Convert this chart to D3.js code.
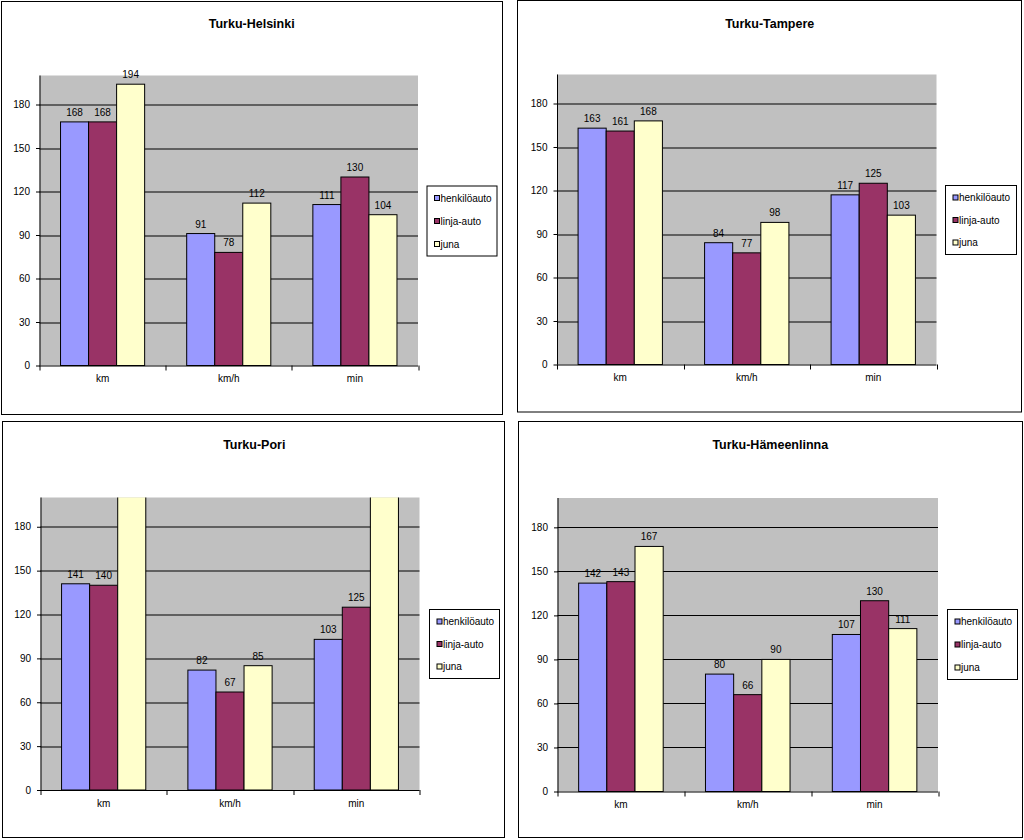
<!DOCTYPE html>
<html><head><meta charset="utf-8">
<script src="https://cdn.jsdelivr.net/npm/d3@7"></script>
<style>
html,body{margin:0;padding:0;background:#fff;}
svg{display:block;font-family:"Liberation Sans",Arial,sans-serif;}
</style></head>
<body>
<svg id="c" width="1024" height="840"></svg>
<script>
// ---- data ----
const categories = ["km", "km/h", "min"];
const seriesNames = ["henkilöauto", "linja-auto", "juna"];
const seriesColors = ["#9999FF", "#993366", "#FFFFCC"];
const yTicks = [0, 30, 60, 90, 120, 150, 180];
const yMax = 200;
const routeTitles = ["Turku-Helsinki", "Turku-Tampere", "Turku-Pori", "Turku-Hämeenlinna"];
// values per series: [km, km/h, min]
const helsinkiHenkiloauto = [168, 91, 111];
const helsinkiLinjaauto   = [168, 78, 130];
const helsinkiJuna        = [194, 112, 104];
const tampereHenkiloauto  = [163, 84, 117];
const tampereLinjaauto    = [161, 77, 125];
const tampereJuna         = [168, 98, 103];
const poriHenkiloauto     = [141, 82, 103];
const poriLinjaauto       = [140, 67, 125];
const poriJuna            = [290, 85, 220]; // km and min exceed the axis and are cut off
const hameenlinnaHenkiloauto = [142, 80, 107];
const hameenlinnaLinjaauto   = [143, 66, 130];
const hameenlinnaJuna        = [167, 90, 111];

const routeValues = [
  [helsinkiHenkiloauto, helsinkiLinjaauto, helsinkiJuna],
  [tampereHenkiloauto, tampereLinjaauto, tampereJuna],
  [poriHenkiloauto, poriLinjaauto, poriJuna],
  [hameenlinnaHenkiloauto, hameenlinnaLinjaauto, hameenlinnaJuna]
];

// ---- layout (positions only) ----
const layouts = [
  {frame:[1.5,1.5,501,413], plot:[39.5,75.5,418,365.5], title:[251.7,23.5], legend:[427,186,70,70]},
  {frame:[517.5,0.5,504,411.5], plot:[557,74.5,936.5,364.5], title:[769.7,23.5], legend:[945.5,185.5,71,69]},
  {frame:[2.5,421.5,502,416], plot:[40.5,497.5,419.5,790], title:[254.3,444.5], legend:[429.5,609.5,70,69]},
  {frame:[518.5,421.5,504,416], plot:[557.5,498,938,791.5], title:[770.3,444.7], legend:[947.5,609.5,70,70]}
];

const svg = d3.select("#c");

routeTitles.forEach((title, pi) => {
  const L = layouts[pi];
  const vals = routeValues[pi];
  const g = svg.append("g");

  // panel frame
  g.append("rect").attr("x", L.frame[0]).attr("y", L.frame[1])
    .attr("width", L.frame[2]).attr("height", L.frame[3])
    .attr("fill", "#fff").attr("stroke", "#000").attr("stroke-width", 1);

  // title
  g.append("text").attr("x", L.title[0]).attr("y", L.title[1])
    .attr("text-anchor", "middle").attr("dominant-baseline", "central")
    .attr("font-size", "12.5px").attr("font-weight", "bold").attr("fill", "#000")
    .text(title);

  const [x0, y0, x1, y1] = L.plot;
  const w = x1 - x0, h = y1 - y0;
  const pg = g.append("g").attr("transform", `translate(${x0},${y0})`);

  const y = d3.scaleLinear().domain([0, yMax]).range([h, 0]);
  const xCat = d3.scaleBand().domain(categories).range([0, w]).padding(0);
  const bw = xCat.bandwidth();
  const xSer = d3.scaleBand().domain(seriesNames).range([bw / 6, bw * 5 / 6]).padding(0);

  // plot background
  pg.append("rect").attr("width", w).attr("height", h).attr("fill", "#C0C0C0");

  // gridlines
  pg.append("g").selectAll("line").data(yTicks.filter(t => t > 0)).join("line")
    .attr("x1", 0).attr("x2", w)
    .attr("y1", d => Math.round(y(d)) + 0.5).attr("y2", d => Math.round(y(d)) + 0.5)
    .attr("stroke", "#000").attr("stroke-width", 1);

  // clip
  const clipId = "clip" + pi;
  pg.append("clipPath").attr("id", clipId).append("rect")
    .attr("x", -1).attr("y", 0).attr("width", w + 2).attr("height", h + 1);

  // bars
  const bars = [];
  seriesNames.forEach((s, si) => {
    categories.forEach((c, ci) => {
      bars.push({s, si, c, v: vals[si][ci]});
    });
  });
  pg.append("g").attr("clip-path", `url(#${clipId})`)
    .selectAll("rect").data(bars).join("rect")
    .attr("x", d => xCat(d.c) + xSer(d.s))
    .attr("y", d => y(d.v))
    .attr("width", xSer.bandwidth())
    .attr("height", d => h - y(d.v))
    .attr("fill", d => seriesColors[d.si])
    .attr("stroke", "#000").attr("stroke-width", 1);

  // data labels (hidden when out of range)
  pg.append("g").selectAll("text").data(bars.filter(d => d.v <= yMax)).join("text")
    .attr("x", d => xCat(d.c) + xSer(d.s) + xSer.bandwidth() / 2)
    .attr("y", d => y(d.v) - 6)
    .attr("text-anchor", "middle").attr("font-size", "10px").attr("fill", "#000")
    .text(d => d.v);

  // y axis
  const yAxis = d3.axisLeft(y).tickValues(yTicks).tickSize(4).tickPadding(6);
  const ya = pg.append("g").attr("transform", "translate(0.5,0)").call(yAxis);
  ya.select(".domain").attr("d", `M-4,${h}H0V0`).remove();
  pg.append("line").attr("x1", 0.5).attr("x2", 0.5).attr("y1", 0).attr("y2", h)
    .attr("stroke", "#000");
  ya.selectAll("text").attr("font-size", "10px").attr("font-family", "Liberation Sans, Arial, sans-serif").attr("fill", "#000");
  ya.selectAll("line").attr("stroke", "#000");

  // x axis
  const xa = pg.append("g").attr("transform", `translate(0,${h})`);
  xa.append("line").attr("x1", 0).attr("x2", w).attr("y1", 0.5).attr("y2", 0.5).attr("stroke", "#000");
  const boundaries = [0, ...categories.map(c => xCat(c) + bw)];
  xa.selectAll("line.tk").data(boundaries).join("line").attr("class", "tk")
    .attr("x1", d => Math.round(d) + 0.5).attr("x2", d => Math.round(d) + 0.5)
    .attr("y1", 0).attr("y2", 5).attr("stroke", "#000");
  xa.selectAll("text").data(categories).join("text")
    .attr("x", d => xCat(d) + bw / 2).attr("y", 16.5)
    .attr("text-anchor", "middle").attr("font-size", "10px").attr("fill", "#000")
    .text(d => d);

  // legend
  const [lx, ly, lw, lh] = L.legend;
  const lg = g.append("g").attr("transform", `translate(${lx},${ly})`);
  lg.append("rect").attr("width", lw).attr("height", lh).attr("fill", "#fff").attr("stroke", "#000");
  const ls = d3.scalePoint().domain(seriesNames).range([12, lh - 12]);
  const items = lg.selectAll("g.it").data(seriesNames).join("g").attr("class", "it")
    .attr("transform", d => `translate(0,${ls(d)})`);
  items.append("rect").attr("x", 7.5).attr("y", -2.5).attr("width", 5).attr("height", 5)
    .attr("fill", (d, i) => seriesColors[i]).attr("stroke", "#000").attr("stroke-width", 1);
  items.append("text").attr("x", 13.5).attr("y", 0).attr("dominant-baseline", "central")
    .attr("font-size", "10px").attr("fill", "#000").text(d => d);
});
</script>
</body></html>
